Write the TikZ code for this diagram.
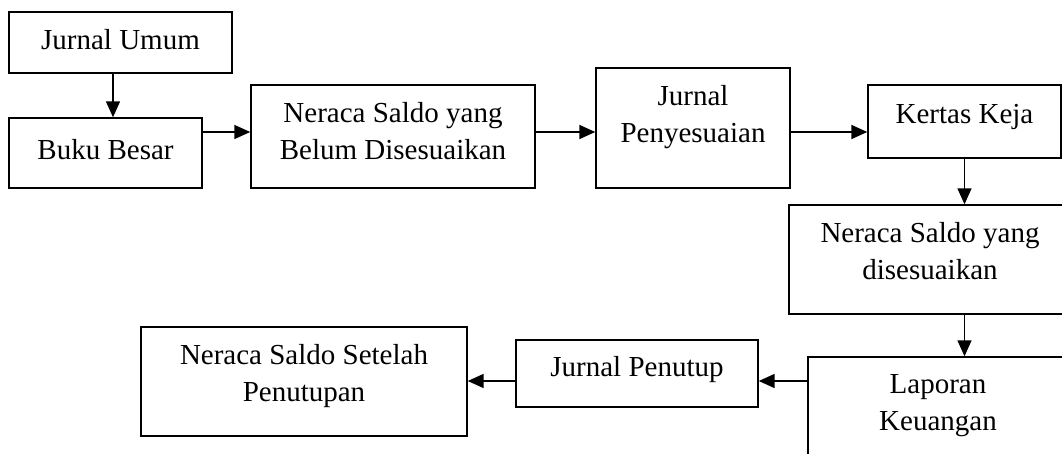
\documentclass[tikz,border=0pt]{standalone}
\usepackage{fontspec}
\setmainfont{Liberation Serif}
\usetikzlibrary{arrows.meta}
\tikzset{
  box/.style={draw, line width=1.4pt, inner sep=0pt},
  lbl/.style={anchor=north, align=center, inner sep=0pt, font=\fontsize{29}{37}\selectfont},
  arr/.style={line width=1.5pt, -{Triangle[length=16pt,width=14pt]}},
}
\begin{document}
\begin{tikzpicture}[x=1pt,y=-1pt]
  \useasboundingbox (0,0) rectangle (1062,454);
  % boxes
  \node[box, minimum width=223pt, minimum height=61pt] (ju) at (120.5,42.5) {};
  \node[box, minimum width=193pt, minimum height=70pt] (bb) at (105.5,153) {};
  \node[box, minimum width=284pt, minimum height=103pt] (nb) at (393,136.5) {};
  \node[box, minimum width=194pt, minimum height=120pt] (jp) at (693,128) {};
  \node[box, minimum width=193pt, minimum height=73pt] (kk) at (964.5,121.5) {};
  \node[box, minimum width=282pt, minimum height=109pt] (nd) at (930,259.5) {};
  \node[box, minimum width=260pt, minimum height=118pt] (lk) at (938,416) {};
  \node[box, minimum width=242pt, minimum height=67pt] (jt) at (637,373.5) {};
  \node[box, minimum width=326pt, minimum height=109pt] (ns) at (304,381.5) {};
  % texts
  \node[lbl] (ju-t) at (120.5,29) {Jurnal Umum};
  \node[lbl] (bb-t) at (105.5,139) {Buku Besar};
  \node[lbl] (nb-t) at (393,102) {Neraca Saldo yang\\Belum Disesuaikan};
  \node[lbl] (jp-t) at (693,85) {Jurnal\\Penyesuaian};
  \node[lbl] (kk-t) at (964.5,104) {Kertas Keja};
  \node[lbl] (nd-t) at (930,222) {Neraca Saldo yang\\disesuaikan};
  \node[lbl] (lk-t) at (938,374) {Laporan\\Keuangan};
  \node[lbl] (jt-t) at (637,356) {Jurnal Penutup};
  \node[lbl] (ns-t) at (304,344) {Neraca Saldo Setelah\\Penutupan};
  % arrows
  \coordinate (col1) at (113,0);
  \coordinate (row1) at (0,132);
  \coordinate (row3) at (0,381);
  \draw[arr] (ju.south -| col1) -- (bb.north -| col1);
  \draw[arr] (bb.east |- row1) -- (nb.west |- row1);
  \draw[arr] (nb.east |- row1) -- (jp.west |- row1);
  \draw[arr] (jp.east |- row1) -- (kk.west |- row1);
  \draw[arr] (kk.south) -- (nd.north -| kk.south);
  \draw[arr] (nd.south -| kk.south) -- (lk.north -| kk.south);
  \draw[arr] (lk.west |- row3) -- (jt.east |- row3);
  \draw[arr] (jt.west |- row3) -- (ns.east |- row3);
\end{tikzpicture}
\end{document}
